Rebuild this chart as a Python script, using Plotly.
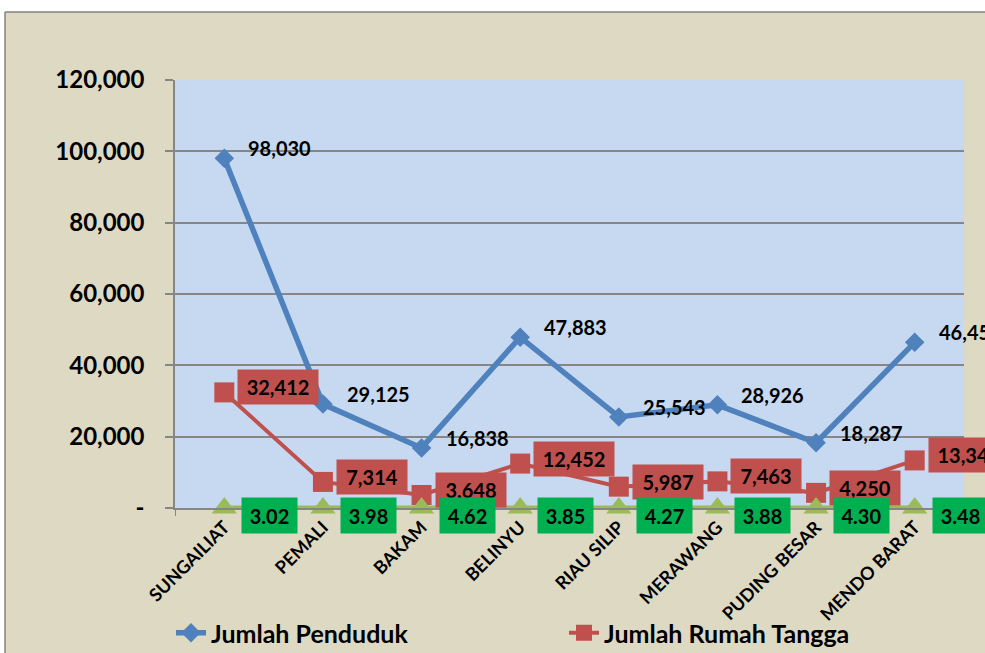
import plotly.graph_objects as go

# ---------------- data ----------------
categories = ["SUNGAILIAT", "PEMALI", "BAKAM", "BELINYU", "RIAU SILIP",
              "MERAWANG", "PUDING BESAR", "MENDO BARAT"]
penduduk = [98030, 29125, 16838, 47883, 25543, 28926, 18287, 46453]
rumah_tangga = [32412, 7314, 3648, 12452, 5987, 7463, 4250, 13344]
rata_rata = [3.02, 3.98, 4.62, 3.85, 4.27, 3.88, 4.30, 3.48]
y_ticks = [0, 20000, 40000, 60000, 80000, 100000, 120000]
y_tick_labels = ["-", "20,000", "40,000", "60,000", "80,000", "100,000", "120,000"]
series_names = ["Jumlah Penduduk", "Jumlah Rumah Tangga", "Rata-rata Anggota Rumah Tangga"]

# ---------------- style ----------------
W, H = 985, 653
L, R, T, B = 175, 21, 80, 145
PW, PH = W - L - R, H - T - B
BEIGE = "#DDD9C3"
PLOT_BG = "#C6D9F1"
BLUE = "#4F81BD"
RED = "#C0504D"
GREEN_T = "#9BBB59"
GREEN_BOX = "#00B050"
GRID = "#868686"
FONT = "Lato"


def px_x(px):
    return (px - L) / PW


def px_y(py):
    return (H - B - py) / PH


fig = go.Figure()
fig.add_trace(go.Scatter(
    x=categories, y=penduduk, name=series_names[0], mode="lines+markers",
    line=dict(color=BLUE, width=5.5),
    marker=dict(symbol="diamond", size=15, color=BLUE),
    cliponaxis=False))
fig.add_trace(go.Scatter(
    x=categories, y=rumah_tangga, name=series_names[1], mode="lines+markers",
    line=dict(color=RED, width=4),
    marker=dict(symbol="square", size=20, color=RED),
    cliponaxis=False))
fig.add_trace(go.Scatter(
    x=categories, y=rata_rata, name=series_names[2], mode="lines+markers",
    line=dict(color=GREEN_T, width=5),
    marker=dict(symbol="triangle-up", size=22, color=GREEN_T),
    cliponaxis=False, showlegend=False))

annotations = []
lab_font = dict(family=FONT, size=20, color="black", weight="bold")
for c, v in zip(categories, penduduk):
    annotations.append(dict(x=c, y=v, xref="x", yref="y", text=f"{v:,}",
                            showarrow=False, xanchor="left", yanchor="middle",
                            xshift=22, yshift=10, font=lab_font))
for c, v in zip(categories, rumah_tangga):
    t = f"{v:,}"
    annotations.append(dict(x=c, y=v, xref="x", yref="y", text=t,
                            showarrow=False, xanchor="left", yanchor="middle",
                            xshift=13, yshift=5, font=lab_font,
                            bgcolor=RED, borderpad=0,
                            width=10 * len(t) + 20, height=34))
for c, v in zip(categories, rata_rata):
    t = f"{v:.2f}"
    annotations.append(dict(x=c, y=v, xref="x", yref="y", text=t,
                            showarrow=False, xanchor="left", yanchor="middle",
                            xshift=17, yshift=-8, font=lab_font,
                            bgcolor=GREEN_BOX, borderpad=0,
                            width=55, height=35))

shapes = [
    # white page strips outside the chart frame
    dict(type="rect", xref="paper", yref="paper", x0=px_x(-5), x1=px_x(W + 5),
         y0=px_y(12), y1=px_y(-5), fillcolor="white", line=dict(width=0), layer="above"),
    dict(type="rect", xref="paper", yref="paper", x0=px_x(-5), x1=px_x(5),
         y0=px_y(H + 5), y1=px_y(-5), fillcolor="white", line=dict(width=0), layer="above"),
    # chart frame
    dict(type="line", xref="paper", yref="paper", x0=px_x(5), x1=px_x(W + 5),
         y0=px_y(12), y1=px_y(12), line=dict(color="#808080", width=1.5), layer="above"),
    dict(type="line", xref="paper", yref="paper", x0=px_x(5), x1=px_x(5),
         y0=px_y(12), y1=px_y(H + 5), line=dict(color="#808080", width=1.5), layer="above"),
]

fig.update_layout(
    width=W, height=H,
    margin=dict(l=L, r=R, t=T, b=B, autoexpand=False),
    paper_bgcolor=BEIGE, plot_bgcolor=PLOT_BG,
    font=dict(family=FONT, color="black", weight="bold"),
    showlegend=True,
    legend=dict(orientation="h", x=px_x(171), y=px_y(633), xanchor="left", yanchor="middle",
                font=dict(family=FONT, size=25, color="black", weight="bold"),
                bgcolor="rgba(0,0,0,0)", entrywidth=348, entrywidthmode="pixels"),
    annotations=annotations, shapes=shapes,
    xaxis=dict(type="category", range=[-0.5, 7.5], showgrid=False,
               tickangle=-45, tickson="boundaries", ticks="outside", ticklen=6,
               tickcolor=GRID, showline=True, linecolor=GRID, linewidth=1.5,
               tickfont=dict(family=FONT, size=18, color="black", weight="bold")),
    yaxis=dict(range=[0, 120000], tickvals=y_ticks, ticktext=y_tick_labels,
               showgrid=True, gridcolor=GRID, gridwidth=1.5, zeroline=False,
               ticks="outside", ticklen=8, tickcolor=GRID, tickwidth=1.5,
               showline=True, linecolor=GRID, linewidth=1.5,
               ticklabelstandoff=16,
               tickfont=dict(family=FONT, size=24, color="black", weight="bold")),
)

fig.write_html(
    "out.html",
    config={"displayModeBar": False},
    post_script="document.body.style.margin='0';document.body.style.overflow='hidden';",
)
